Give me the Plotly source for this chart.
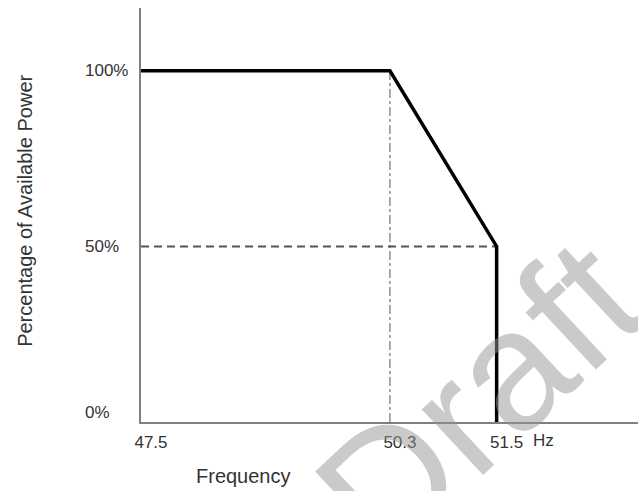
import plotly.graph_objects as go

# ---- data ----
curve_freq = [47.5, 50.3, 51.5, 51.5]
curve_power = [100, 100, 50, 0]
half_freq = [47.5, 51.5]
half_power = [50, 50]
knee_freq = [50.3, 50.3]
knee_power = [0, 100]
x_tick_vals = [47.5, 50.3, 51.5]
x_tick_text = ["47.5", "50.3", "51.5"]
y_tick_vals = [0, 50, 100]
y_tick_text = ["0%", "50%", "100%"]

FONT = "Liberation Sans, Arial, sans-serif"
TXT = "#333333"

fig = go.Figure()
fig.add_trace(go.Scatter(x=knee_freq, y=knee_power, mode="lines",
                         line=dict(color="#555555", width=1, dash="dashdot"),
                         hoverinfo="skip", showlegend=False))
fig.add_trace(go.Scatter(x=half_freq, y=half_power, mode="lines",
                         line=dict(color="#555555", width=2, dash="8px,5px"),
                         hoverinfo="skip", showlegend=False))
fig.add_trace(go.Scatter(x=curve_freq, y=curve_power, mode="lines",
                         line=dict(color="#000000", width=3.5),
                         hoverinfo="skip", showlegend=False))

annotations = []
for v, t in zip(y_tick_vals, y_tick_text):
    annotations.append(dict(x=0, xref="paper", y=v, yref="y", text=t,
                            showarrow=False, xanchor="left", yanchor="middle",
                            xshift=-58, yshift=(10 if v == 0 else 0),
                            font=dict(family=FONT, size=17, color=TXT)))
annotations += [
    dict(x=0.809, xref="paper", y=0, yref="paper", text="Hz", showarrow=False,
         xanchor="center", yanchor="middle", yshift=-18,
         font=dict(family=FONT, size=17, color=TXT)),
    dict(x=0.207, xref="paper", y=0, yref="paper", text="Frequency", showarrow=False,
         xanchor="center", yanchor="middle", yshift=-54,
         font=dict(family=FONT, size=20, color=TXT)),
    dict(x=0, xref="paper", y=0.51, yref="paper", text="Percentage of Available Power",
         showarrow=False, textangle=-90, xanchor="center", yanchor="middle",
         xshift=-116, font=dict(family=FONT, size=20, color=TXT)),
    dict(x=0.68, xref="paper", y=0.058, yref="paper", text="Draft", showarrow=False,
         textangle=-43, xanchor="center", yanchor="middle",
         font=dict(family=FONT, size=170, color="rgba(150,150,150,0.5)")),
]

fig.update_layout(
    width=638, height=491,
    margin=dict(l=141, r=0, t=8, b=69),
    paper_bgcolor="white", plot_bgcolor="white",
    showlegend=False,
    annotations=annotations,
    xaxis=dict(range=[47.5, 53.09], showgrid=False, zeroline=False,
               showline=True, linecolor="#7f7f7f", linewidth=1.5,
               tickmode="array", tickvals=x_tick_vals, ticktext=x_tick_text,
               ticks="", ticklabelshift=10, ticklabelstandoff=4,
               tickfont=dict(family=FONT, size=17, color=TXT)),
    yaxis=dict(range=[0, 117.9], showgrid=False, zeroline=False,
               showline=True, linecolor="#7f7f7f", linewidth=1.5,
               showticklabels=False, ticks=""),
)

fig.write_html("out.html", config={"displayModeBar": False},
               post_script="document.body.style.margin='0';document.body.style.overflow='hidden';")
